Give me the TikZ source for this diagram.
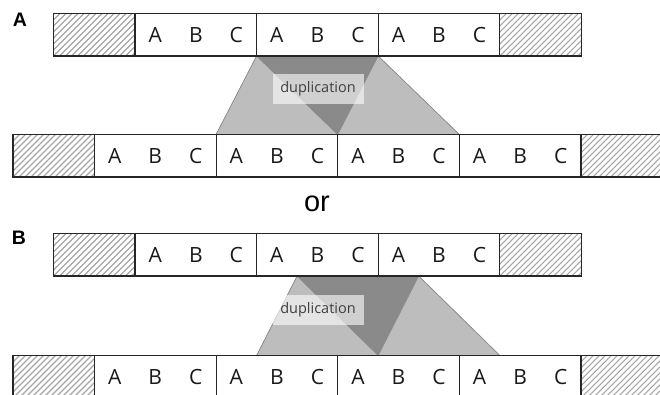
\documentclass[tikz,border=0pt]{standalone}
\usepackage{fontspec}
\newfontfamily\lf{Open Sans}
\newfontfamily\af{Liberation Sans}
\usetikzlibrary{calc,backgrounds}
\begin{document}
\begin{tikzpicture}[x=1pt,y=-1pt,
  seg/.style={draw=black!85, line width=1.2pt, minimum width=121.6pt, minimum height=42.5pt, inner sep=0pt, outer sep=0pt, anchor=north west},
  hatchbox/.style={seg, minimum width=81.5pt, path picture={
     \foreach \i in {-60,-54,...,100} \draw[black!35, line width=1.1pt] ([xshift=\i pt]path picture bounding box.south west) -- ++(60pt,60pt);}},
  let/.style={font=\lf\fontsize{21}{24}\selectfont, text=black!90, inner sep=0pt},
  lightp/.style={fill=black!26, draw=black!45, line width=0.5pt},
  darkp/.style={fill=black!46, draw=black!45, line width=0.5pt},
  dupl/.style={fill=white, fill opacity=0.6, text opacity=1, text=black!75, minimum width=91pt, minimum height=30pt, inner sep=0pt, font=\lf\fontsize{14.5}{16}\selectfont},
  tag/.style={font=\af\bfseries\fontsize{19.5}{22}\selectfont, inner sep=0pt}
]
\useasboundingbox (0,0) rectangle (660,395);

% generic rows
\foreach \r/\x/\y/\n in {At/53.5/13.5/3, Ab/13/134.5/4, Bt/53.5/233.5/3, Bb/13/355.5/4}{
  \node[hatchbox] (\r0) at (\x,\y) {};
  \foreach \i [remember=\i as \lasti (initially 0)] in {1,...,\n}{
    \node[seg] (\r\i) at (\r\lasti.north east) {};
    \foreach \k/\L in {1/A,3/B,5/C}
      \node[let] at ($(\r\i.north west)!\k/6!(\r\i.north east)+(0,21.5)$) {\L};
  }
  \node[hatchbox] (\r E) at (\r\n.north east) {};
}

% duplication A
\begin{scope}[on background layer]
  \fill[lightp] (At2.south west) -- (At2.south east) -- (Ab2.north east) -- (Ab2.north west) -- cycle;
  \fill[lightp] (At2.south west) -- (At2.south east) -- (Ab3.north east) -- (Ab3.north west) -- cycle;
  \filldraw[darkp] (At2.south west) -- (At2.south east) -- (Ab2.north east) -- cycle;
  \draw[black!45, line width=0.5pt] (At2.south west) -- (Ab2.north west) (At2.south east) -- (Ab3.north east);
\end{scope}
\node[dupl] (dA) at (318,89) {duplication};

% duplication B
\coordinate (bl) at ($(Bt2.south west)+(40.53,0)$);
\coordinate (br) at ($(Bt2.south east)+(40.53,0)$);
\coordinate (b1) at ($(Bb2.north west)+(40.53,0)$);
\coordinate (b2) at ($(Bb3.north west)+(40.53,0)$);
\coordinate (b3) at ($(Bb4.north west)+(40.53,0)$);
\begin{scope}[on background layer]
  \fill[lightp] (bl) -- (br) -- (b2) -- (b1) -- cycle;
  \fill[lightp] (bl) -- (br) -- (b3) -- (b2) -- cycle;
  \filldraw[darkp] (bl) -- (br) -- (b2) -- cycle;
  \draw[black!45, line width=0.5pt] (bl) -- (b1) (br) -- (b3);
\end{scope}
\node[dupl] (dB) at (318,309.5) {duplication};

\node[font=\af\fontsize{29}{32}\selectfont, inner sep=0pt] (or) at (317,204) {or};
\node[tag] (tA) at (20,20) {A};
\node[tag] (tB) at (19,237.5) {B};
\end{tikzpicture}
\end{document}
